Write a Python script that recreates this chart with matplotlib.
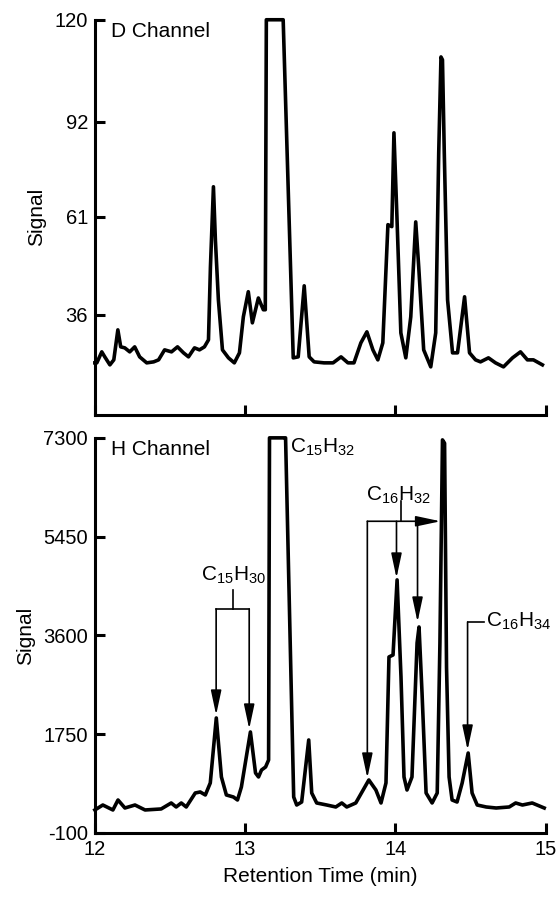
import numpy as np
import matplotlib
matplotlib.use('Agg')
import matplotlib.pyplot as plt

plt.rcParams['font.family'] = ['Liberation Sans', 'DejaVu Sans']
plt.rcParams['mathtext.default'] = 'regular'
plt.rcParams['axes.unicode_minus'] = False

# D channel trace (time in min, signal)
d_time = [12.0, 12.013, 12.046, 12.066, 12.1, 12.126, 12.153, 12.172, 12.199, 12.232,
          12.265, 12.298, 12.345, 12.391, 12.424, 12.464, 12.51, 12.55, 12.59, 12.623,
          12.663, 12.696, 12.729, 12.756, 12.769, 12.789, 12.802, 12.822, 12.849, 12.889,
          12.928, 12.962, 12.988, 13.021, 13.048, 13.088, 13.121, 13.134, 13.141, 13.253,
          13.32, 13.353, 13.393, 13.426, 13.459, 13.525, 13.585, 13.638, 13.684, 13.724,
          13.77, 13.81, 13.85, 13.883, 13.916, 13.95, 13.976, 13.99, 14.01, 14.036,
          14.069, 14.102, 14.135, 14.155, 14.188, 14.235, 14.268, 14.288, 14.303, 14.313,
          14.325, 14.347, 14.38, 14.413, 14.46, 14.493, 14.533, 14.566, 14.619, 14.666,
          14.719, 14.779, 14.832, 14.878, 14.918, 14.978]
d_signal = [24.0, 24.0, 26.75, 25.5, 23.5, 24.75, 32.25, 28.0, 27.75, 26.75,
            28.0, 25.5, 24.0, 24.25, 24.75, 27.25, 26.75, 28.0, 26.5, 25.5,
            27.75, 27.25, 28.0, 29.75, 48.2, 70.8, 55.1, 39.8, 27.25, 25.25,
            24.0, 26.5, 35.5, 41.9, 34.0, 40.3, 37.3, 37.3, 120.0, 120.0,
            25.25, 25.5, 43.4, 25.5, 24.25, 24.0, 24.0, 25.5, 24.0, 24.0,
            29.0, 31.75, 27.25, 24.75, 29.0, 59.0, 58.5, 88.4, 61.0, 31.5,
            25.25, 35.5, 59.7, 48.2, 27.25, 23.0, 31.5, 81.9, 109.8, 109.0,
            81.9, 39.8, 26.5, 26.5, 40.6, 26.5, 24.75, 24.25, 25.25, 24.0,
            23.0, 25.25, 26.75, 24.75, 24.75, 23.5]

# H channel trace
h_time = [12.0, 12.053, 12.12, 12.154, 12.2, 12.267, 12.334, 12.441, 12.508, 12.541,
          12.575, 12.608, 12.668, 12.701, 12.735, 12.768, 12.808, 12.842, 12.875, 12.922,
          12.949, 12.975, 13.035, 13.069, 13.089, 13.109, 13.136, 13.156, 13.162, 13.256,
          13.269, 13.323, 13.343, 13.376, 13.423, 13.443, 13.476, 13.543, 13.603, 13.643,
          13.676, 13.736, 13.823, 13.87, 13.904, 13.937, 13.957, 13.984, 14.011, 14.037,
          14.057, 14.077, 14.11, 14.144, 14.157, 14.177, 14.204, 14.244, 14.278, 14.296,
          14.313, 14.327, 14.34, 14.357, 14.377, 14.41, 14.444, 14.484, 14.51, 14.544,
          14.604, 14.67, 14.757, 14.8, 14.845, 14.91, 14.99]
h_signal = [331, 424, 331, 518, 368, 424, 331, 350, 462, 387,
            462, 387, 649, 668, 612, 837, 2054, 949, 612, 574,
            518, 762, 1792, 1024, 949, 1080, 1136, 1267, 7300, 7300,
            7300, 574, 424, 480, 1642, 649, 462, 424, 387, 462,
            387, 462, 893, 705, 462, 837, 3197, 3234, 4640, 2822,
            949, 705, 949, 3459, 3758, 2522, 649, 462, 649, 3459,
            7262, 7200, 3000, 949, 518, 480, 837, 1398, 649, 424,
            387, 368, 387, 462, 424, 462, 368]

d_ticks = [36, 61, 92, 120]
h_ticks = [-100, 1750, 3600, 5450, 7300]
x_ticks = [12, 13, 14, 15]

# the D channel axis has evenly spaced but unevenly valued ticks
d_knots = [11, 36, 61, 92, 120]
d_pos = [0, 100, 198, 293, 395]


def d_forward(v):
    return np.interp(v, d_knots, d_pos)


def d_inverse(p):
    return np.interp(p, d_pos, d_knots)


fs = 15
lw_axis = 2.2
lw_trace = 2.6

fig = plt.figure(figsize=(5.58, 8.98), dpi=100)
ax1 = fig.add_axes([0.170, 0.538, 0.808, 0.440])
ax2 = fig.add_axes([0.170, 0.0724, 0.808, 0.440])

for ax in (ax1, ax2):
    for side in ('top', 'right'):
        ax.spines[side].set_visible(False)
    for side in ('left', 'bottom'):
        ax.spines[side].set_linewidth(lw_axis)
    ax.tick_params(direction='in', length=7, width=lw_axis, labelsize=fs - 0.5, pad=5)
    ax.set_xlim(12, 15)
    ax.set_xticks(x_ticks)
    ax.set_ylabel('Signal', fontsize=fs, labelpad=6)

ax1.set_yscale('function', functions=(d_forward, d_inverse))
ax1.set_ylim(11, 120)
ax1.set_yticks(d_ticks)
ax1.set_yticklabels([str(t) for t in d_ticks])
ax1.yaxis.set_minor_locator(matplotlib.ticker.NullLocator())
ax1.tick_params(axis='x', labelbottom=False)
ax1.plot(d_time, d_signal, color='black', lw=lw_trace, solid_joinstyle='round',
         clip_on=False)
ax1.text(0.035, 0.995, 'D Channel', transform=ax1.transAxes, fontsize=fs,
         ha='left', va='top')

ax2.set_ylim(-100, 7300)
ax2.set_yticks(h_ticks)
ax2.set_xticklabels([str(t) for t in x_ticks])
ax2.plot(h_time, h_signal, color='black', lw=lw_trace, solid_joinstyle='round',
         clip_on=False)
ax2.text(0.035, 0.995, 'H Channel', transform=ax2.transAxes, fontsize=fs,
         ha='left', va='top')
ax2.set_xlabel('Retention Time (min)', fontsize=fs, labelpad=6)

# peak labels
lfs = 15
lw_ann = 1.2
arrow = dict(arrowstyle='-|>,head_length=0.75,head_width=0.16', lw=lw_ann,
             color='black', shrinkA=0, shrinkB=0, mutation_scale=20)


def down_arrow(x, y0, y1):
    ax2.annotate('', xy=(x, y1), xytext=(x, y0), arrowprops=arrow)


ax2.text(13.30, 7130, 'C$_{15}$H$_{32}$', fontsize=lfs, ha='left', va='center')

ax2.text(12.92, 4720, 'C$_{15}$H$_{30}$', fontsize=lfs, ha='center', va='center')
ax2.plot([12.92, 12.92], [4451, 4096], color='black', lw=lw_ann)
ax2.plot([12.807, 13.027], [4096, 4096], color='black', lw=lw_ann)
down_arrow(12.807, 4096, 2110)
down_arrow(13.027, 4096, 1848)

ax2.text(14.02, 6220, 'C$_{16}$H$_{32}$', fontsize=lfs, ha='center', va='center')
ax2.plot([14.035, 14.035], [6112, 5738], color='black', lw=lw_ann)
ax2.annotate('', xy=(14.30, 5738), xytext=(13.813, 5738), arrowprops=arrow)
down_arrow(13.813, 5738, 930)
down_arrow(14.007, 5738, 4676)
down_arrow(14.147, 5738, 3852)

ax2.text(14.60, 3870, 'C$_{16}$H$_{34}$', fontsize=lfs, ha='left', va='center')
ax2.plot([14.48, 14.59], [3852, 3852], color='black', lw=lw_ann)
down_arrow(14.48, 3852, 1455)

fig.savefig('out.png', dpi=100)
